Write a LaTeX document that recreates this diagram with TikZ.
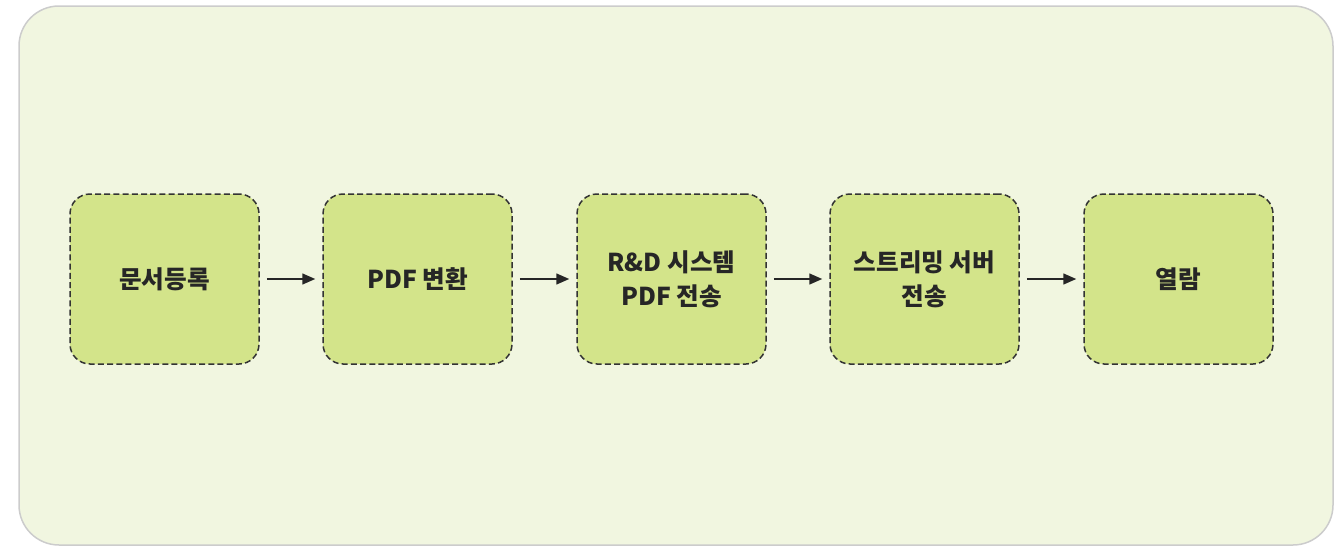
\documentclass[tikz,border=0pt]{standalone}
\usepackage{fontspec}
\setmainfont{Noto Sans CJK KR}
\usetikzlibrary{arrows.meta}
\definecolor{bgc}{HTML}{F1F6E0}
\definecolor{bgline}{HTML}{CCCCCC}
\definecolor{boxc}{HTML}{D3E48A}
\definecolor{linec}{HTML}{333333}
\tikzset{
  stepbox/.style={draw=linec, fill=boxc, line width=0.75pt, dash pattern=on 3pt off 1.6pt,
    rounded corners=10pt, minimum width=94.5pt, minimum height=85pt, align=center,
    font=\fontsize{12.3pt}{17pt}\selectfont\bfseries, text=black!85, inner sep=0pt},
  flow/.style={draw=black!85, line width=0.75pt, -{Triangle[length=6.5pt,width=5.5pt]}, shorten <=3.5pt, shorten >=3.5pt}
}
\begin{document}
\begin{tikzpicture}[x=0.5pt,y=-0.5pt]
\useasboundingbox (0,0) rectangle (1334,546);
\draw[fill=bgc, draw=bgline, line width=0.75pt, rounded corners=20pt] (19,6) rectangle (1333,545);
\node[stepbox] (a) at (164.5,279) {문서등록};
\node[stepbox] (b) at (417.5,279) {PDF 변환};
\node[stepbox] (c) at (671.5,279) {R\&D 시스템\\PDF 전송};
\node[stepbox] (d) at (924.5,279) {스트리밍 서버\\전송};
\node[stepbox] (e) at (1178.5,279) {열람};
\draw[flow] (a) -- (b);
\draw[flow] (b) -- (c);
\draw[flow] (c) -- (d);
\draw[flow] (d) -- (e);
\end{tikzpicture}
\end{document}
